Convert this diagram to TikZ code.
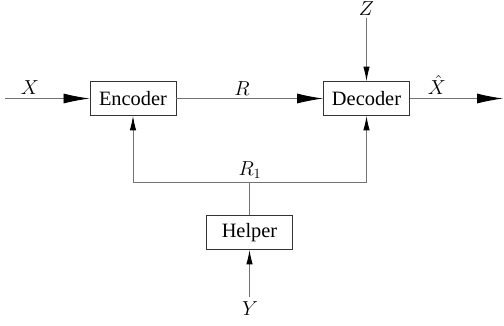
\documentclass[tikz,border=0pt]{standalone}
\usepackage{amsmath,amssymb}
\usepackage{fontspec}
\setmainfont{Liberation Serif}
\usetikzlibrary{arrows.meta,calc,positioning}

\tikzset{
    blockbox/.style={draw=black!80,line width=0.6pt,minimum width=2.15cm,minimum height=0.85cm,inner sep=0pt},
    link/.style={draw=black!55,line width=0.6pt},
    bigarrow/.style={link,-{Latex[length=0.65cm,width=0.25cm,color=black]}},
    smallarrow/.style={link,-{Latex[length=0.36cm,width=0.16cm,color=black]}},
}

\begin{document}
\begin{tikzpicture}[x=0.025cm,y=-0.025cm,font=\fontsize{14.5}{17}\selectfont]
    % page size of the reference
    \useasboundingbox (0,0) rectangle (504,325);

    % blocks
    \node[blockbox] (enc) at (133,98.5) {Encoder};
    \node[blockbox] (dec) at (366.5,98.5) {Decoder};
    \node[blockbox] (help) at (249.5,232.5) {Helper};

    % free ends
    \coordinate (xin) at (5,98.5);
    \coordinate (xout) at (503,98.5);
    \coordinate (zin) at (366.5,18);
    \coordinate (yin) at (249.5,297);
    \coordinate (split) at (249.5,182);

    \draw[bigarrow] (xin) -- (enc.west);
    \draw[bigarrow] (enc.east) -- (dec.west);
    \draw[bigarrow] (dec.east) -- (xout);
    \draw[smallarrow] (zin) -- (dec.north);
    \draw[smallarrow] (yin) -- (help.south);
    \draw[link] (help.north) -- (split);
    \draw[smallarrow] (split) -| (enc.south);
    \draw[smallarrow] (split) -| (dec.south);

    % labels
    \node (xlab) at (30,88) {$X$};
    \node (rlab) at (242,89) {$R$};
    \node (xhatlab) at (437,85) {$\hat{X}$};
    \node (zlab) at (366.5,9) {$Z$};
    \node (r1lab) at (250,170) {$R_1$};
    \node (ylab) at (250,309) {$Y$};
\end{tikzpicture}
\end{document}
